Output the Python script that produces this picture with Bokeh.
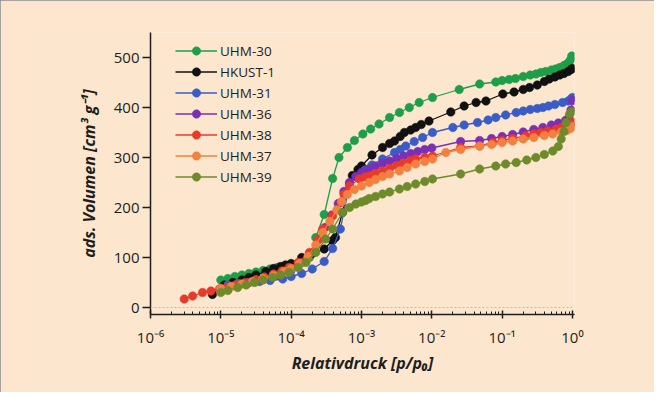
from bokeh.plotting import figure
from bokeh.models import (FixedTicker, Legend, LegendItem, Span,
                          CustomJSTickFormatter, Range1d)
from bokeh.embed import file_html
from bokeh.resources import INLINE

# ---------------- data (log10 of p/p0, adsorbed volume cm3/g) ----------------
series_names = ["UHM-30", "HKUST-1", "UHM-31", "UHM-36", "UHM-38", "UHM-37", "UHM-39"]
series_colors = ["#1f9e4a", "#111111", "#3a5cc7", "#7b2fb5", "#e83a2a", "#f28040", "#6e8b2b"]

uhm30_logp = [-5.00, -4.90, -4.80, -4.70, -4.60, -4.50, -4.40, -4.30, -4.20, -4.10, -4.00, -3.85,
              -3.74, -3.65, -3.53, -3.41, -3.32, -3.20, -3.10, -2.98, -2.87, -2.75, -2.60, -2.46,
              -2.32, -2.18, -1.99, -1.61, -1.32, -1.09, -1.00, -0.90, -0.81, -0.70, -0.60, -0.52,
              -0.45, -0.38, -0.30, -0.24, -0.18, -0.12, -0.08, -0.05, -0.03, -0.01]
uhm30_vol = [55, 58, 62, 65, 68, 71, 74, 77, 80, 83, 86, 93,
             100, 140, 186, 258, 300, 320, 334, 347, 357, 367, 380, 390,
             400, 410, 420, 436, 447, 451, 454, 456, 458, 462, 465, 467,
             470, 472, 475, 477, 480, 484, 487, 490, 495, 503]

hkust1_logp = [-5.12, -4.95, -4.83, -4.70, -4.60, -4.50, -4.36, -4.25, -4.15, -4.08, -4.00, -3.85,
               -3.70, -3.53, -3.41, -3.37, -3.27, -3.13, -3.05, -3.00, -2.85, -2.70, -2.60, -2.53,
               -2.45, -2.39, -2.30, -2.23, -2.15, -2.04, -1.73, -1.54, -1.37, -1.23, -0.99, -0.83,
               -0.70, -0.61, -0.50, -0.40, -0.33, -0.25, -0.18, -0.12, -0.06, -0.02, 0.00]
hkust1_vol = [26, 45, 50, 55, 60, 65, 72, 78, 82, 85, 88, 100,
              108, 117, 134, 140, 190, 264, 276, 283, 305, 320, 328, 333,
              342, 350, 355, 360, 366, 373, 391, 403, 410, 413, 427, 431,
              436, 440, 445, 452, 457, 461, 465, 468, 472, 476, 478]

uhm31_logp = [-4.90, -4.75, -4.60, -4.45, -4.30, -4.12, -4.00, -3.85, -3.70, -3.53, -3.41, -3.30,
              -3.17, -3.03, -2.95, -2.85, -2.70, -2.53, -2.45, -2.37, -2.25, -2.13, -1.99, -1.70,
              -1.54, -1.35, -1.20, -1.09, -0.95, -0.80, -0.70, -0.60, -0.50, -0.42, -0.34, -0.25,
              -0.14, -0.06, -0.02, 0.00]
uhm31_vol = [45, 48, 50, 52, 54, 57, 62, 68, 77, 92, 118, 157,
             247, 262, 275, 285, 297, 310, 316, 323, 332, 340, 350, 360,
             365, 370, 375, 380, 385, 390, 393, 396, 398, 400, 403, 406,
             410, 413, 417, 420]

uhm36_logp = [-5.00, -4.80, -4.60, -4.40, -4.20, -4.00, -3.85, -3.74, -3.62, -3.52, -3.42, -3.33,
              -3.25, -3.17, -3.08, -3.00, -2.90, -2.80, -2.70, -2.60, -2.50, -2.40, -2.30, -2.20,
              -2.10, -2.00, -1.59, -1.32, -1.15, -1.00, -0.85, -0.70, -0.55, -0.42, -0.30, -0.20,
              -0.10, -0.05, -0.02, 0.00]
uhm36_vol = [38, 44, 50, 56, 64, 75, 90, 108, 135, 160, 185, 208,
             232, 250, 262, 270, 277, 283, 288, 293, 298, 303, 308, 312,
             316, 319, 332, 334, 338, 342, 346, 351, 356, 360, 365, 369,
             374, 380, 395, 414]

uhm38_logp = [-5.52, -5.40, -5.26, -5.14, -5.02, -4.90, -4.78, -4.65, -4.50, -4.38, -4.25, -4.13,
              -4.03, -3.90, -3.74, -3.62, -3.55, -3.41, -3.29, -3.25, -3.17, -3.03, -2.95, -2.89,
              -2.80, -2.70, -2.60, -2.50, -2.40, -2.30, -2.23, -2.10, -1.99, -1.59, -1.32, -1.13,
              -1.00, -0.85, -0.66, -0.55, -0.45, -0.35, -0.23, -0.15, -0.08, -0.03, 0.00]
uhm38_vol = [17, 23, 30, 33, 37, 41, 46, 50, 56, 61, 67, 73,
             80, 90, 110, 135, 157, 183, 210, 227, 243, 257, 261, 263,
             268, 273, 278, 284, 289, 294, 297, 300, 303, 320, 323, 330,
             334, 338, 343, 347, 350, 353, 357, 360, 363, 366, 370]

uhm37_logp = [-5.00, -4.85, -4.70, -4.55, -4.40, -4.25, -4.10, -4.00, -3.88, -3.76, -3.65, -3.55,
              -3.45, -3.35, -3.28, -3.20, -3.10, -3.00, -2.89, -2.80, -2.70, -2.60, -2.46, -2.35,
              -2.23, -2.10, -1.99, -1.80, -1.59, -1.32, -1.15, -1.00, -0.85, -0.70, -0.55, -0.40,
              -0.28, -0.16, -0.08, -0.03, 0.00]
uhm37_vol = [38, 42, 47, 52, 58, 64, 72, 78, 88, 102, 125, 150,
             172, 195, 212, 226, 236, 243, 250, 256, 262, 267, 273, 280,
             287, 292, 297, 310, 316, 323, 326, 330, 333, 337, 340, 344,
             347, 351, 354, 358, 362]

uhm39_logp = [-5.00, -4.90, -4.76, -4.64, -4.52, -4.40, -4.26, -4.15, -4.03, -3.90, -3.79, -3.65,
              -3.51, -3.41, -3.27, -3.17, -3.08, -3.00, -2.94, -2.89, -2.80, -2.70, -2.60, -2.46,
              -2.35, -2.23, -2.10, -1.99, -1.59, -1.32, -1.09, -0.95, -0.80, -0.65, -0.52, -0.40,
              -0.28, -0.20, -0.16, -0.12, -0.09, -0.04, -0.01]
uhm39_vol = [30, 34, 40, 45, 50, 55, 60, 65, 70, 80, 90, 110,
             137, 157, 190, 200, 207, 211, 214, 218, 222, 227, 231, 237,
             242, 247, 252, 257, 267, 277, 283, 287, 290, 295, 300, 306,
             313, 322, 337, 352, 370, 387, 392]

series_logp = [uhm30_logp, hkust1_logp, uhm31_logp, uhm36_logp, uhm38_logp, uhm37_logp, uhm39_logp]
series_vol = [uhm30_vol, hkust1_vol, uhm31_vol, uhm36_vol, uhm38_vol, uhm37_vol, uhm39_vol]

x_major_exponents = [-6, -5, -4, -3, -2, -1, 0]
y_ticks = [0, 100, 200, 300, 400, 500]
x_title = "Relativdruck [p/p₀]"
y_title = "ads. Volumen [cm³ g⁻¹]"

# ---------------- figure ----------------
BG = "#fce6cd"
INK = "#1e1e1e"
FONT = "Open Sans"

p = figure(width=654, height=392, x_axis_type="log",
           x_range=Range1d(1e-6, 1.07), y_range=Range1d(-14, 550),
           output_backend="svg", toolbar_location=None,
           min_border_left=150, min_border_right=80, min_border_top=32, min_border_bottom=78,
           background_fill_color=BG, border_fill_color=BG)
p.styles = {"outline": "2px solid #8c8c8c", "outline-offset": "-2px"}
p.outline_line_color = None
p.grid.visible = False

p.add_layout(Span(location=0, dimension="width", line_color="#cbbba8",
                  line_dash="2 2", line_width=1))

items = []
for name, col, lp, vol in zip(series_names, series_colors, series_logp, series_vol):
    xs = [10.0 ** v for v in lp]
    r1 = p.line(xs, vol, line_color=col, line_width=1.3)
    r2 = p.scatter(xs, vol, size=8.5, fill_color=col, line_color=col, line_width=0.5)
    items.append(LegendItem(label=name, renderers=[r1, r2]))

legend = Legend(items=items, location=(25, 127), padding=0, spacing=0, margin=0,
                glyph_width=42, glyph_height=21, label_height=21, label_standoff=3,
                background_fill_alpha=0, border_line_alpha=0,
                label_text_font=FONT, label_text_font_size="13.5px", label_text_color=INK)
p.add_layout(legend, "center")

# x axis
xt_major = [10.0 ** e for e in x_major_exponents]
xt_minor = [m * 10.0 ** e for e in x_major_exponents[:-1] for m in range(2, 10)]
p.xaxis.ticker = FixedTicker(ticks=xt_major, minor_ticks=xt_minor)
p.xaxis.formatter = CustomJSTickFormatter(code="""
    const sup = {'-': '\u207b', '0': '\u2070', '1': '\u00b9', '2': '\u00b2', '3': '\u00b3',
                 '4': '\u2074', '5': '\u2075', '6': '\u2076', '7': '\u2077', '8': '\u2078', '9': '\u2079'};
    const e = String(Math.round(Math.log10(tick)));
    let s = '10';
    for (const c of e) { s += sup[c]; }
    return s;
""")
p.xaxis.axis_line_color = INK
p.xaxis.axis_line_width = 1.5
p.xaxis.major_tick_line_color = INK
p.xaxis.major_tick_line_width = 1.5
p.xaxis.major_tick_in = 4
p.xaxis.major_tick_out = 4
p.xaxis.minor_tick_line_color = INK
p.xaxis.minor_tick_in = 3
p.xaxis.minor_tick_out = 0
p.xaxis.major_label_standoff = 8
p.xaxis.major_label_text_font = FONT
p.xaxis.major_label_text_font_size = "15px"
p.xaxis.major_label_text_color = INK
p.xaxis.axis_label = x_title
p.xaxis.axis_label_standoff = 2
p.xaxis.axis_label_text_font = FONT
p.xaxis.axis_label_text_font_size = "16px"
p.xaxis.axis_label_text_font_style = "bold italic"
p.xaxis.axis_label_text_color = INK

# y axis
p.yaxis.ticker = FixedTicker(ticks=y_ticks, minor_ticks=[])
p.yaxis.axis_line_color = INK
p.yaxis.axis_line_width = 1.5
p.yaxis.major_tick_line_color = INK
p.yaxis.major_tick_line_width = 1.5
p.yaxis.major_tick_in = 0
p.yaxis.major_tick_out = 8
p.yaxis.major_label_standoff = 3
p.yaxis.major_label_text_font = FONT
p.yaxis.major_label_text_font_size = "15px"
p.yaxis.major_label_text_color = INK
p.yaxis.axis_label = y_title
p.yaxis.axis_label_standoff = 11
p.yaxis.axis_label_text_font = FONT
p.yaxis.axis_label_text_font_size = "16px"
p.yaxis.axis_label_text_font_style = "bold italic"
p.yaxis.axis_label_text_color = INK

open("out.html", "w").write(file_html(p, INLINE))
